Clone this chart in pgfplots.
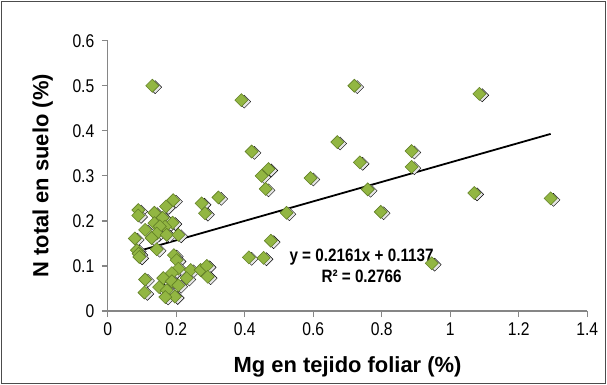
\documentclass[border=0pt]{standalone}
\usepackage{pgfplots}
\pgfplotsset{compat=1.18}
\usepackage{fontspec}
\setmainfont{Liberation Sans}
\newfontfamily\narrowfont[FakeStretch=0.85]{Liberation Sans}

\definecolor{markfill}{RGB}{146,182,66}
\definecolor{markedge}{RGB}{98,128,38}
\definecolor{axisgray}{RGB}{134,134,134}

\begin{document}
\begin{tikzpicture}
\useasboundingbox (0,0) rectangle (607bp,385bp);
\draw[black!70, line width=0.8bp] (1.5bp,1.5bp) rectangle (605.5bp,383.5bp);

\begin{axis}[
    at={(107.8bp,74bp)}, anchor=south west,
    scale only axis,
    width=479.5bp, height=270.3bp,
    xmin=0, xmax=1.4, ymin=0, ymax=0.6,
    axis x line=bottom, axis y line=left,
    axis line style={-, draw=axisgray, line width=1.2bp},
    xtick={0,0.2,0.4,0.6,0.8,1,1.2,1.4},
    xticklabels={0,0.2,0.4,0.6,0.8,1,1.2,1.4},
    ytick={0,0.1,0.2,0.3,0.4,0.5,0.6},
    yticklabels={0,0.1,0.2,0.3,0.4,0.5,0.6},
    tick align=outside,
    major tick length=6bp,
    tick style={draw=axisgray, line width=1.2bp},
    ticklabel style={font=\narrowfont\fontsize{18.5}{18.5}\selectfont, text=black},
    xticklabel style={yshift=-2bp},
    yticklabel style={xshift=-4bp},
    /pgf/number format/assume math mode=true,
    xlabel={Mg en tejido foliar (\%)},
    ylabel={N total en suelo (\%)},
    xlabel style={font=\bfseries\fontsize{22}{22}\selectfont, at={(axis description cs:0.5,0)}, anchor=center, yshift=-56bp},
    ylabel style={font=\bfseries\fontsize{22}{22}\selectfont, at={(axis description cs:0,0.5)}, anchor=center, yshift=65bp},
    clip=false,
]
% soft shadow under each marker
\addplot[only marks, mark=square*, mark size=4.6bp,
    mark options={rotate=45, fill=black!10, draw=none, xshift=1bp, yshift=-3bp}]
    table {
x y
0.089 0.224
0.089 0.212
0.136 0.218
0.170 0.232
0.191 0.246
0.274 0.239
0.323 0.252
0.284 0.217
0.160 0.207
0.189 0.196
0.136 0.195
0.167 0.187
0.152 0.188
0.109 0.180
0.143 0.172
0.172 0.169
0.206 0.169
0.079 0.161
0.128 0.162
0.143 0.137
0.085 0.135
0.090 0.127
0.092 0.120
0.193 0.124
0.201 0.113
0.206 0.094
0.242 0.091
0.271 0.091
0.289 0.100
0.292 0.076
0.230 0.073
0.187 0.084
0.162 0.073
0.187 0.066
0.206 0.057
0.150 0.053
0.172 0.046
0.196 0.032
0.168 0.031
0.109 0.070
0.107 0.041
0.130 0.500
0.390 0.468
0.420 0.354
0.449 0.300
0.469 0.315
0.461 0.271
0.592 0.295
0.522 0.218
0.476 0.156
0.412 0.119
0.455 0.118
0.670 0.375
0.720 0.500
0.736 0.330
0.759 0.270
0.797 0.220
0.887 0.355
0.887 0.320
1.070 0.262
1.085 0.482
1.293 0.250
0.946 0.106
};
% data
\addplot[only marks, mark=square*, mark size=4.6bp,
    mark options={rotate=45, fill=markfill, draw=markedge, line width=0.6bp}]
    table {
x y
0.089 0.224
0.089 0.212
0.136 0.218
0.170 0.232
0.191 0.246
0.274 0.239
0.323 0.252
0.284 0.217
0.160 0.207
0.189 0.196
0.136 0.195
0.167 0.187
0.152 0.188
0.109 0.180
0.143 0.172
0.172 0.169
0.206 0.169
0.079 0.161
0.128 0.162
0.143 0.137
0.085 0.135
0.090 0.127
0.092 0.120
0.193 0.124
0.201 0.113
0.206 0.094
0.242 0.091
0.271 0.091
0.289 0.100
0.292 0.076
0.230 0.073
0.187 0.084
0.162 0.073
0.187 0.066
0.206 0.057
0.150 0.053
0.172 0.046
0.196 0.032
0.168 0.031
0.109 0.070
0.107 0.041
0.130 0.500
0.390 0.468
0.420 0.354
0.449 0.300
0.469 0.315
0.461 0.271
0.592 0.295
0.522 0.218
0.476 0.156
0.412 0.119
0.455 0.118
0.670 0.375
0.720 0.500
0.736 0.330
0.759 0.270
0.797 0.220
0.887 0.355
0.887 0.320
1.070 0.262
1.085 0.482
1.293 0.250
0.946 0.106
};
% trendline y = 0.2161x + 0.1137
\addplot[black, line width=1.8bp, no marks] coordinates {(0.079,0.1308) (1.293,0.3931)};
\node[font=\narrowfont\bfseries\fontsize{18}{18}\selectfont, anchor=center]
    at (axis cs:0.741,0.1205) {y = 0.2161x + 0.1137};
\node[font=\narrowfont\bfseries\fontsize{18}{18}\selectfont, anchor=center]
    at (axis cs:0.741,0.076) {R² = 0.2766};
\end{axis}
\end{tikzpicture}
\end{document}
